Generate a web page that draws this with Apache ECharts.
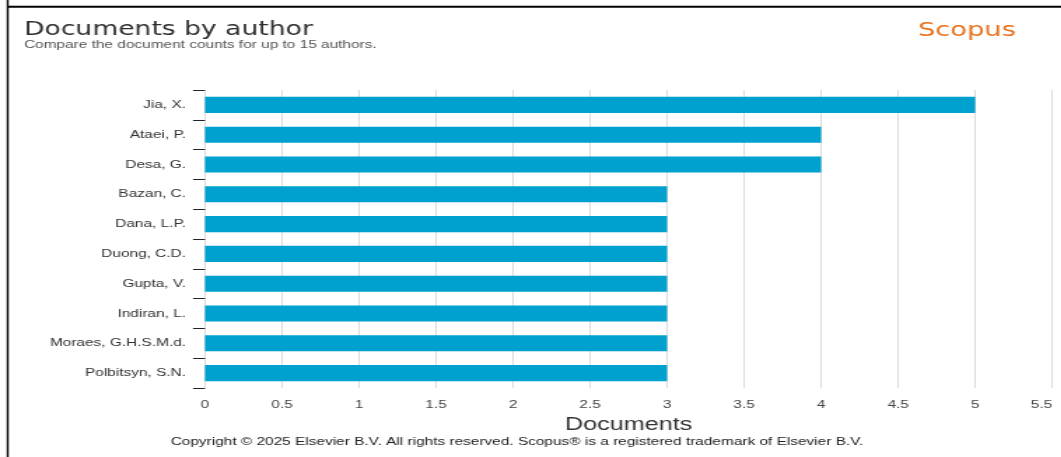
<!DOCTYPE html>
<html><head><meta charset="utf-8">
<script src="https://cdn.jsdelivr.net/npm/echarts@6/dist/echarts.min.js"></script>
<style>
html,body{margin:0;padding:0;background:#fff;overflow:hidden}
#wrap{width:1061px;height:457px;overflow:hidden;position:relative}
#c{width:758px;height:457px;transform:scaleX(1.4);transform-origin:0 0}
</style>
</head><body><div id="wrap"><div id="c"></div></div>
<script>
const authors = ["Jia, X.", "Ataei, P.", "Desa, G.", "Bazan, C.", "Dana, L.P.", "Duong, C.D.", "Gupta, V.", "Indiran, L.", "Moraes, G.H.S.M.d.", "Polbitsyn, S.N."];
const documents = [5, 4, 4, 3, 3, 3, 3, 3, 3, 3];

const SX = 1.4; // horizontal stretch of the reference screenshot
const chart = echarts.init(document.getElementById('c'), null, {renderer: 'canvas'});
chart.setOption({
  animation: false,
  backgroundColor: '#fff',
  title: [
    {text: 'Documents by author', left: 24 / SX, top: 20.5, padding: 0, textStyle: {fontFamily: 'DejaVu Sans', fontSize: 19, fontWeight: 'normal', color: '#2e2e2e'}},
    {text: 'Compare the document counts for up to 15 authors.', left: 24 / SX, top: 39.5, padding: 0, textStyle: {fontFamily: 'Liberation Sans, Arial', fontSize: 11, fontWeight: 'normal', color: '#555'}},
    {text: 'Scopus', left: 918 / SX, top: 21, padding: 0, textStyle: {fontFamily: 'DejaVu Sans', fontSize: 19.5, fontWeight: 'normal', color: '#e9711c'}},
    {text: 'Copyright © 2025 Elsevier B.V. All rights reserved. Scopus® is a registered trademark of Elsevier B.V.', left: 517 / SX, top: 436, padding: 0, textAlign: 'center', textStyle: {fontFamily: 'Liberation Sans, Arial', fontSize: 11, fontWeight: 'normal', color: '#222'}}
  ],
  grid: {left: 205 / SX, right: 9 / SX, top: 90, bottom: 69, containLabel: false, outerBoundsMode: 'none'},
  xAxis: {
    type: 'value', min: 0, max: 5.5, interval: 0.5,
    name: 'Documents', nameLocation: 'middle', nameGap: 28,
    nameTextStyle: {fontFamily: 'Liberation Sans, Arial', fontSize: 18, color: '#333'},
    axisLine: {show: false}, axisTick: {show: false},
    axisLabel: {fontFamily: 'Liberation Sans, Arial', fontSize: 11, color: '#444', margin: 11, alignMaxLabel: 'right'},
    splitLine: {show: true, lineStyle: {color: '#dcdcdc', width: 1}}
  },
  yAxis: {
    type: 'category', data: authors, inverse: true,
    axisLine: {show: false},
    axisTick: {show: true, length: 12 / SX, lineStyle: {color: '#222', width: 1}},
    axisLabel: {fontFamily: 'Liberation Sans, Arial', fontSize: 11, color: '#333', margin: 19 / SX}
  },
  series: [{
    type: 'bar', data: documents, barCategoryGap: '46%',
    itemStyle: {color: '#00a0cf'}
  }],
  graphic: [
    {type: 'line', shape: {x1: 7.7 / SX, y1: 0, x2: 7.7 / SX, y2: 457}, style: {stroke: '#000', lineWidth: 2 / SX}},
    {type: 'line', shape: {x1: 7 / SX, y1: 6.7, x2: 758, y2: 6.7}, style: {stroke: '#000', lineWidth: 2}}
  ]
});
</script></body></html>
